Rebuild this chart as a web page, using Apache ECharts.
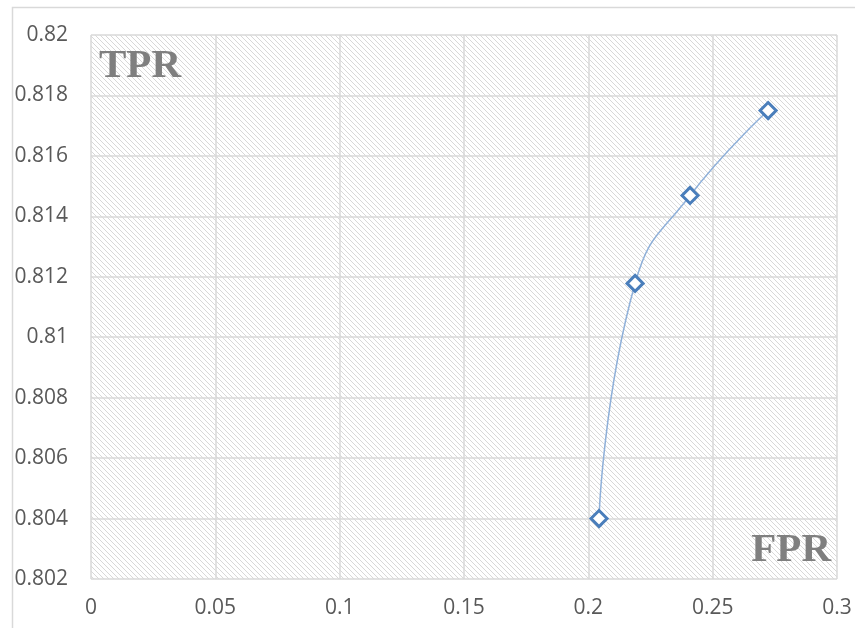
<!DOCTYPE html>
<html>
<head>
<meta charset="utf-8">
<script src="https://cdn.jsdelivr.net/npm/echarts@6/dist/echarts.min.js"></script>
<style>
html,body{margin:0;padding:0;background:#fff;}
#chart{width:855px;height:628px;}
</style>
</head>
<body>
<div id="chart"></div>
<script>
const fprValues = [0.2043, 0.2188, 0.2409, 0.2723];
const tprValues = [0.8040, 0.81178, 0.81469, 0.8175];
const yTicks = { min: 0.802, max: 0.82, step: 0.002 };
const xTicks = { min: 0, max: 0.3, step: 0.05 };
const cornerLabels = ['TPR', 'FPR'];

const P = 5;
const pc = document.createElement('canvas');
pc.width = P; pc.height = P;
const ctx = pc.getContext('2d');
ctx.fillStyle = '#ffffff';
ctx.fillRect(0, 0, P, P);
ctx.fillStyle = '#d8d8d8';
for (let i = 0; i < P; i++) ctx.fillRect(i, i, 1, 1);

const chart = echarts.init(document.getElementById('chart'), null, { renderer: 'canvas' });
const labelStyle = { color: '#595959', fontSize: 21, fontFamily: 'Open Sans' };
chart.setOption({
  animation: false,
  backgroundColor: '#ffffff',
  grid: {
    show: true, left: 91, right: 18, top: 35, bottom: 49,
    backgroundColor: { image: pc, repeat: 'repeat' },
    borderWidth: 0
  },
  xAxis: {
    type: 'value', min: xTicks.min, max: xTicks.max, interval: xTicks.step,
    axisLine: { show: false }, axisTick: { show: false },
    axisLabel: Object.assign({ margin: 19 }, labelStyle),
    splitLine: { show: true, lineStyle: { color: '#d9d9d9', width: 1.5 } }
  },
  yAxis: {
    type: 'value', min: yTicks.min, max: yTicks.max, interval: yTicks.step,
    axisLine: { show: false }, axisTick: { show: false },
    axisLabel: Object.assign({ margin: 23 }, labelStyle),
    splitLine: { show: true, lineStyle: { color: '#d9d9d9', width: 1.5 } }
  },
  series: [{
    type: 'line',
    data: fprValues.map((x, i) => [x, tprValues[i]]),
    smooth: 0.5,
    symbol: 'diamond',
    symbolSize: 16,
    lineStyle: { color: '#8fb0d9', width: 1.5 },
    itemStyle: { color: '#ffffff', borderColor: '#4a7ebb', borderWidth: 3 }
  }],
  graphic: [
    { type: 'rect', left: 10, top: 5, shape: { width: 860, height: 640 },
      style: { fill: 'none', stroke: '#d9d9d9', lineWidth: 1.5 }, z: -10, silent: true },
    { type: 'text', left: 99, top: 46,
      style: { text: cornerLabels[0], fill: '#7f7f7f', font: 'bold 41px "Liberation Serif"' }, z: 10 },
    { type: 'text', right: 24, top: 530,
      style: { text: cornerLabels[1], fill: '#7f7f7f', font: 'bold 41px "Liberation Serif"' }, z: 10 }
  ]
});
</script>
</body>
</html>
